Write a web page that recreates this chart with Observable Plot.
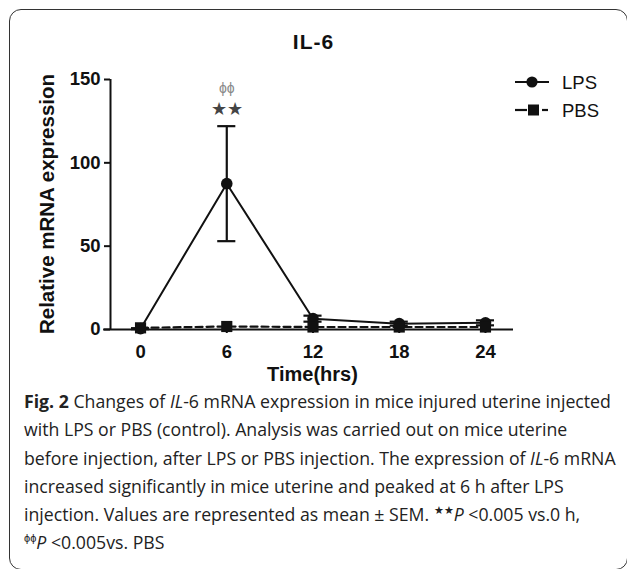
<!DOCTYPE html>
<html>
<head>
<meta charset="utf-8">
<script src="https://cdn.jsdelivr.net/npm/d3@7"></script>
<script src="https://cdn.jsdelivr.net/npm/@observablehq/plot@0.6"></script>
<style>
  html, body { margin: 0; padding: 0; background: #fff; }
  #page { position: relative; width: 627px; height: 569px; overflow: hidden; font-family: "Liberation Sans", Arial, sans-serif; }
  #box { position: absolute; left: 9px; top: 9px; width: 619px; height: 561px; box-sizing: border-box; border: 1.5px solid #333; border-radius: 12px; }
  #title { position: absolute; left: 0; width: 627px; top: 30px; text-align: center; font-family: "Liberation Sans", Arial, sans-serif; font-weight: bold; font-size: 21px; letter-spacing: 1px; color: #111; }
  #chart { position: absolute; left: 0; top: 55px; }
  #chart svg text { font-family: "Liberation Sans", Arial, sans-serif; }
  #ylab { position: absolute; left: 47px; top: 204px; transform: translate(-50%, -50%) rotate(-90deg); white-space: nowrap; font-family: "Liberation Sans", Arial, sans-serif; font-weight: bold; font-size: 20.5px; color: #111; }
  #xlab { position: absolute; left: 0; width: 625px; top: 363px; text-align: center; font-family: "Liberation Sans", Arial, sans-serif; font-weight: bold; font-size: 20px; color: #111; }
  #legend { position: absolute; left: 0; top: 0; }
  #caption { position: absolute; left: 24px; top: 387px; font-family: "Open Sans", sans-serif; font-size: 17.7px; line-height: 28.3px; color: #222; white-space: nowrap; }
  #caption sup { font-size: 11px; vertical-align: 7px; line-height: 0; }
</style>
</head>
<body>
<div id="page">
  <div id="box"></div>
  <div id="title">IL-6</div>
  <div id="chart"></div>
  <div id="ylab">Relative mRNA expression</div>
  <div id="xlab">Time(hrs)</div>
  <svg id="legend" width="627" height="569">
    <g font-family="Liberation Sans, Arial, sans-serif" font-size="18.5" fill="#111">
      <line x1="515" x2="549" y1="82" y2="82" stroke="#111" stroke-width="2.2"/>
      <circle cx="532" cy="82" r="5.6" fill="#111"/>
      <text x="562" y="89">LPS</text>
      <line x1="515" x2="527" y1="110" y2="110" stroke="#111" stroke-width="2.2"/>
      <rect x="528" y="104.5" width="11" height="11" fill="#111"/>
      <line x1="542" x2="548" y1="110" y2="110" stroke="#111" stroke-width="2.2"/>
      <text x="562" y="117">PBS</text>
    </g>
  </svg>
  <div id="caption"><b>Fig. 2</b> Changes of <i>IL</i>-6 mRNA expression in mice injured uterine injected<br>with LPS or PBS (control). Analysis was carried out on mice uterine<br>before injection, after LPS or PBS injection. The expression of <i>IL</i>-6 mRNA<br>increased significantly in mice uterine and peaked at 6 h after LPS<br>injection. Values are represented as mean ± SEM. <sup>★★</sup><i>P</i> &lt;0.005 vs.0 h,<br><sup>ϕϕ</sup><i>P</i> &lt;0.005vs. PBS</div>
</div>
<script>
// ---- data ----
const times = [0, 6, 12, 18, 24];
const lpsMean = [0.5, 87.5, 6.5, 3.5, 4.0];
const lpsSem  = [0.3, 34.5, 1.8, 1.2, 1.5];
const pbsMean = [1.0, 1.8, 1.5, 1.5, 1.5];
const xTicks = [0, 6, 12, 18, 24];
const yTicks = [0, 50, 100, 150];
const sigTime = [6];
const sigStars = ["★★"];
const sigPhi = ["ϕϕ"];

const lps = times.map((t, i) => ({t, m: lpsMean[i], s: lpsSem[i]}));
const pbs = times.map((t, i) => ({t, m: pbsMean[i]}));
const sig = sigTime.map((t, i) => {
  const k = times.indexOf(t);
  return {t, top: lpsMean[k] + lpsSem[k], stars: sigStars[i], phi: sigPhi[i]};
});

const xDomain = [-2.09, 25.95];
const yDomain = [0, 150];
const xAxisStart = -2.57;
const cap = 0.63;
const bold = "bold";

const chart = Plot.plot({
  width: 627,
  height: 340,
  marginTop: 24,
  marginBottom: 66,
  marginLeft: 110,
  marginRight: 114,
  style: {fontFamily: "Liberation Sans, Arial, sans-serif", fontSize: "18px", color: "#111", background: "transparent", overflow: "visible"},
  x: {domain: xDomain},
  y: {domain: yDomain},
  marks: [
    Plot.axisY({ticks: yTicks, tickSize: 6, tickPadding: 4, label: null, strokeWidth: 2, fontSize: 18.5, fontWeight: bold, fill: "#111"}),
    Plot.axisX({ticks: xTicks, tickSize: 4, tickPadding: 11, label: null, strokeWidth: 2, fontSize: 18.5, fontWeight: bold, fill: "#111"}),
    Plot.ruleX([xDomain[0]], {y1: yDomain[0], y2: yDomain[1], stroke: "#111", strokeWidth: 2}),
    Plot.ruleY([0], {x1: xAxisStart, x2: xDomain[1], stroke: "#111", strokeWidth: 2}),
    // LPS
    Plot.line(lps, {x: "t", y: "m", stroke: "#111", strokeWidth: 2}),
    Plot.ruleX(lps, {x: "t", y1: d => d.m - d.s, y2: d => d.m + d.s, stroke: "#111", strokeWidth: 2.2}),
    Plot.ruleY(lps, {y: d => d.m + d.s, x1: d => d.t - cap, x2: d => d.t + cap, stroke: "#111", strokeWidth: 2.2}),
    Plot.ruleY(lps, {y: d => d.m - d.s, x1: d => d.t - cap, x2: d => d.t + cap, stroke: "#111", strokeWidth: 2.2}),
    Plot.dot(lps, {x: "t", y: "m", r: 5.8, fill: "#111", symbol: "circle"}),
    // PBS
    Plot.line(pbs, {x: "t", y: "m", stroke: "#111", strokeWidth: 2.2, strokeDasharray: "7,4"}),
    Plot.dot(pbs, {x: "t", y: "m", r: 6.3, fill: "#111", symbol: "square"}),
    // significance
    Plot.text(sig, {x: "t", y: "top", text: "stars", dy: -17, fill: "#444", fontSize: 18, fontWeight: "normal", fontFamily: "DejaVu Sans"}),
    Plot.text(sig, {x: "t", y: "top", text: "phi", dy: -38, fill: "#888", fontSize: 14, fontWeight: "normal", fontFamily: "DejaVu Sans"})
  ]
});
document.getElementById("chart").appendChild(chart);
</script>
</body>
</html>
